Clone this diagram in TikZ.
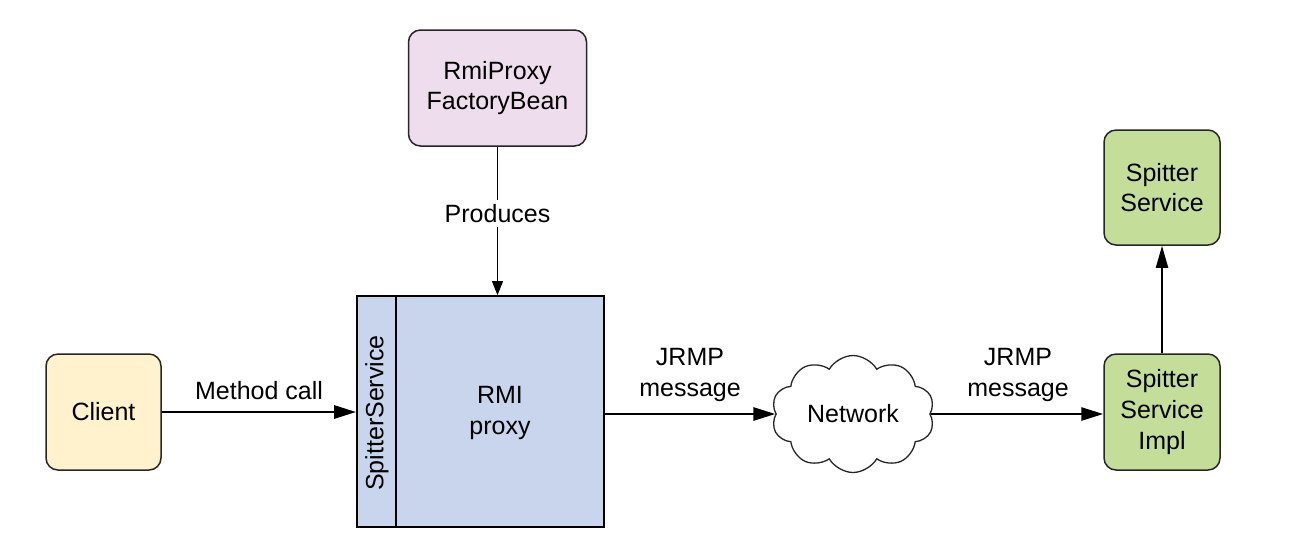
\documentclass[tikz,border=0pt]{standalone}
\usepackage{fontspec}
\setmainfont{Liberation Sans}
\usetikzlibrary{arrows.meta,shapes.symbols}
\definecolor{clientfill}{HTML}{FFF2CC}
\definecolor{pinkfill}{HTML}{EEDDEC}
\definecolor{proxyfill}{HTML}{C9D5EC}
\definecolor{greenfill}{HTML}{C4DE99}
\begin{document}
\begin{tikzpicture}[x=0.5pt,y=-0.5pt,
  txt/.style={font=\fontsize{12.5}{15.3}\selectfont, align=center},
  box/.style={txt, draw=black!85, line width=0.75pt, rounded corners=6pt, inner sep=0pt},
  lbl/.style={txt, inner sep=1pt},
  bigarrow/.style={line width=1.4pt, -{Triangle[length=11pt,width=6.5pt]}},
  uparrow/.style={line width=1pt, -{Triangle[length=11pt,width=6pt]}},
  thinarrow/.style={line width=0.5pt, -{Triangle[length=7pt,width=5.5pt]}},
]
\useasboundingbox (0,0) rectangle (1304,554);

\node[box, fill=clientfill, minimum width=57.5pt, minimum height=58pt] (client) at (103.5,412) {Client};
\node[box, fill=pinkfill, minimum width=89pt, minimum height=58pt] (factory) at (497.5,88) {RmiProxy\\FactoryBean};
\node[txt, draw=black, line width=0.85pt, fill=proxyfill, minimum width=123.5pt, minimum height=115.5pt, inner sep=0pt] (proxy) at (480.5,411.5) {};
\draw[line width=0.85pt] ([xshift=20pt]proxy.north west) -- ([xshift=20pt]proxy.south west);
\node[txt, rotate=90] (iface) at (377,413) {SpitterService};
\node[txt] (rmi) at (500,413) {RMI\\proxy};
\node[txt, cloud, draw=black!85, line width=0.65pt, fill=white, cloud puffs=10, cloud puff arc=120, aspect=1.4, minimum width=81.5pt, minimum height=58.5pt, inner sep=0pt] (cloud) at (853,414) {Network};
\node[box, fill=greenfill, minimum width=58pt, minimum height=58pt] (impl) at (1162,412) {Spitter\\Service\\Impl};
\node[box, fill=greenfill, minimum width=58pt, minimum height=57.5pt] (service) at (1162,187.5) {Spitter\\Service};

\draw[bigarrow] (client.east) -- (client.east -| proxy.west);
\node[lbl] (mc) at (259,391) {Method call};
\draw[bigarrow] (proxy.east |- cloud.west) -- (cloud.west);
\node[lbl] (j1) at (690,375) {JRMP\\message};
\draw[bigarrow] (cloud.east) -- (cloud.east -| impl.west);
\node[lbl] (j2) at (1018,375) {JRMP\\message};
\draw[uparrow] (impl.north) -- (service.south);
\draw[thinarrow] (factory.south) -- node[txt, pos=0.45, fill=white, inner sep=2pt] (prod) {Produces} (factory.south |- proxy.north);
\end{tikzpicture}
\end{document}
